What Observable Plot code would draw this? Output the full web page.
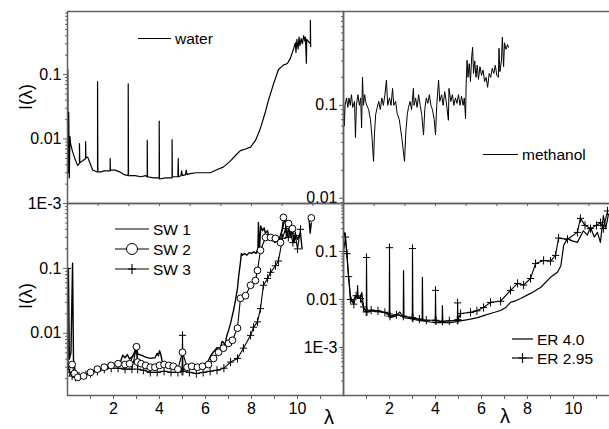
<!DOCTYPE html>
<html><head><meta charset="utf-8">
<script src="https://cdn.jsdelivr.net/npm/d3@7"></script>
<script src="https://cdn.jsdelivr.net/npm/@observablehq/plot@0.6"></script>
<style>
html,body{margin:0;padding:0;background:#fff;overflow:hidden;}
#wrap{position:relative;width:609px;height:429px;overflow:hidden;font-family:"Liberation Sans",Arial,sans-serif;}
#wrap svg{position:absolute;left:0;top:0;background:transparent;max-width:none;}
</style></head><body><div id="wrap"></div>
<script>
// ---------- data (λ, I(λ)) ----------
const water = [[0,0.0025],[0.01,0.12],[0.02,0.003],[0.04,0.026],[0.06,0.0025],[0.08,0.011],[0.1,0.0085],[0.16,0.0065],[0.25,0.0048],[0.33,0.0039],[0.39,0.0042],[0.39,0.0085],[0.4,0.0043],[0.5,0.0046],[0.59,0.005],[0.59,0.0091],[0.6,0.0052],[0.66,0.0052],[0.72,0.0044],[0.82,0.0033],[0.95,0.0031],[0.98,0.0031],[0.98,0.078],[0.99,0.0031],[1.1,0.0031],[1.2,0.0032],[1.39,0.0032],[1.39,0.005],[1.4,0.0033],[1.55,0.0033],[1.7,0.0031],[1.85,0.0028],[1.98,0.0027],[1.98,0.072],[1.99,0.0027],[2.2,0.0027],[2.4,0.0026],[2.55,0.0027],[2.6,0.0026],[2.6,0.0095],[2.61,0.0026],[2.8,0.0025],[2.99,0.0025],[2.99,0.019],[3.0,0.0024],[3.2,0.0025],[3.41,0.0025],[3.41,0.0098],[3.42,0.0026],[3.6,0.0026],[3.61,0.005],[3.62,0.0026],[3.7,0.0027],[3.72,0.0032],[3.75,0.0027],[3.85,0.0028],[3.87,0.0033],[3.9,0.0028],[4.0,0.0029],[4.2,0.003],[4.4,0.003],[4.66,0.003],[4.85,0.0033],[5.09,0.0037],[5.3,0.0045],[5.5,0.0057],[5.64,0.0066],[5.8,0.007],[5.97,0.0075],[6.13,0.0095],[6.29,0.0146],[6.46,0.027],[6.55,0.0395],[6.72,0.072],[6.88,0.12],[7.04,0.14],[7.17,0.148],[7.27,0.18],[7.37,0.25],[7.43,0.31],[7.45,0.22],[7.48,0.35],[7.52,0.25],[7.55,0.38],[7.58,0.28],[7.62,0.36],[7.66,0.3],[7.7,0.4],[7.74,0.33],[7.76,0.38],[7.79,0.15],[7.8,0.35],[7.92,0.3],[7.92,0.69],[7.93,0.27]];

const methanol = [[0,0.11],[0.03,0.06],[0.05,0.1],[0.1,0.12],[0.14,0.095],[0.18,0.12],[0.22,0.1],[0.26,0.13],[0.3,0.095],[0.36,0.11],[0.39,0.045],[0.42,0.1],[0.47,0.13],[0.52,0.1],[0.56,0.12],[0.59,0.057],[0.62,0.2],[0.65,0.1],[0.69,0.13],[0.72,0.11],[0.76,0.1],[0.82,0.09],[0.88,0.07],[0.93,0.045],[0.98,0.025],[1.01,0.05],[1.05,0.08],[1.1,0.095],[1.15,0.11],[1.2,0.09],[1.25,0.12],[1.3,0.1],[1.35,0.13],[1.4,0.186],[1.44,0.1],[1.5,0.12],[1.55,0.1],[1.6,0.152],[1.64,0.1],[1.7,0.11],[1.75,0.082],[1.82,0.07],[1.9,0.045],[1.99,0.025],[2.03,0.05],[2.08,0.08],[2.12,0.095],[2.17,0.11],[2.22,0.09],[2.28,0.152],[2.3,0.1],[2.35,0.12],[2.4,0.095],[2.45,0.13],[2.5,0.1],[2.55,0.08],[2.61,0.048],[2.65,0.09],[2.7,0.12],[2.75,0.105],[2.8,0.13],[2.85,0.1],[2.9,0.09],[2.96,0.07],[3.0,0.048],[3.04,0.1],[3.1,0.186],[3.14,0.11],[3.2,0.13],[3.25,0.1],[3.3,0.14],[3.35,0.11],[3.42,0.069],[3.44,0.152],[3.5,0.11],[3.55,0.13],[3.6,0.1],[3.65,0.12],[3.7,0.105],[3.75,0.13],[3.8,0.1],[3.85,0.125],[3.9,0.1],[3.94,0.12],[3.98,0.072],[4.0,0.17],[4.03,0.305],[4.06,0.2],[4.1,0.28],[4.14,0.18],[4.18,0.33],[4.21,0.42],[4.24,0.22],[4.28,0.3],[4.32,0.2],[4.36,0.27],[4.4,0.19],[4.45,0.26],[4.5,0.21],[4.55,0.24],[4.6,0.18],[4.65,0.2],[4.7,0.156],[4.75,0.22],[4.8,0.2],[4.85,0.25],[4.9,0.22],[4.95,0.27],[5.0,0.21],[5.05,0.2],[5.07,0.41],[5.1,0.23],[5.15,0.3],[5.18,0.54],[5.22,0.26],[5.25,0.47],[5.3,0.4],[5.35,0.45],[5.38,0.42]];

const sw1 = [[0,0.03],[0.04,0.1],[0.08,0.004],[0.15,0.005],[0.22,0.12],[0.26,0.004],[0.35,0.0024],[0.45,0.0021],[0.6,0.0022],[0.8,0.0023],[1.0,0.0025],[1.3,0.0028],[1.6,0.0031],[1.9,0.0033],[2.1,0.0034],[2.3,0.0036],[2.4,0.0046],[2.5,0.0042],[2.6,0.0047],[2.7,0.004],[2.85,0.0045],[2.95,0.0052],[3.0,0.0064],[3.05,0.0048],[3.2,0.0046],[3.4,0.0043],[3.6,0.0041],[3.8,0.0042],[3.9,0.0049],[3.95,0.0045],[4.0,0.0054],[4.05,0.0048],[4.13,0.0035],[4.4,0.0032],[4.7,0.0029],[5.0,0.0028],[5.3,0.0029],[5.6,0.0028],[5.9,0.003],[6.1,0.0036],[6.22,0.0045],[6.35,0.0052],[6.5,0.006],[6.65,0.0059],[6.72,0.0075],[6.78,0.0073],[6.85,0.0065],[6.92,0.009],[7.0,0.011],[7.09,0.0142],[7.17,0.019],[7.22,0.0226],[7.3,0.032],[7.39,0.049],[7.45,0.08],[7.52,0.124],[7.56,0.17],[7.61,0.16],[7.7,0.17],[7.8,0.16],[7.9,0.175],[8.0,0.17],[8.1,0.18],[8.2,0.17],[8.28,0.2],[8.3,0.51],[8.35,0.2],[8.4,0.45],[8.48,0.38],[8.55,0.42],[8.6,0.35],[8.7,0.38],[8.74,0.32],[8.83,0.3],[8.9,0.27],[9.04,0.25],[9.1,0.3],[9.2,0.28],[9.35,0.41],[9.48,0.65],[9.52,0.3],[9.6,0.4],[9.7,0.32],[9.78,0.38],[9.85,0.25],[9.9,0.35],[10.0,0.28],[10.13,0.35],[10.2,0.2],[10.3,NaN],[10.5,0.6],[10.55,0.35],[10.6,0.5]];

const sw2 = [[0.2,0.0033],[0.3,0.0024],[0.45,0.0021],[0.7,0.0022],[1.0,0.0025],[1.3,0.0028],[1.6,0.003],[1.9,0.0032],[2.2,0.0034],[2.5,0.0033],[2.7,0.0034],[3.0,0.0062],[3.05,0.0036],[3.2,0.0034],[3.4,0.0032],[3.6,0.003],[3.8,0.003],[4.0,0.0032],[4.2,0.0033],[4.4,0.0032],[4.6,0.0031],[4.8,0.0028],[5.0,0.0051],[5.2,0.003],[5.4,0.0031],[5.65,0.003],[5.87,0.0031],[6.13,0.0033],[6.35,0.0041],[6.57,0.0051],[6.78,0.0059],[7.0,0.007],[7.17,0.0078],[7.39,0.012],[7.52,0.0346],[7.74,0.038],[7.96,0.055],[8.17,0.065],[8.26,0.093],[8.39,0.19],[8.61,0.3],[8.83,0.3],[9.04,0.29],[9.26,0.25],[9.39,0.61],[9.61,0.49],[9.78,0.41],[10.2,NaN],[10.6,0.6]];

const sw3 = [[0.0,0.1],[0.03,0.003],[0.1,0.0025],[0.2,0.0022],[0.35,0.0021],[0.5,0.0022],[0.8,0.0023],[1.0,0.0024],[1.3,0.0026],[1.6,0.0028],[1.9,0.0029],[2.2,0.0029],[2.5,0.0028],[2.8,0.0028],[3.0,0.0061],[3.05,0.0028],[3.3,0.0027],[3.6,0.0025],[3.9,0.0025],[4.2,0.0026],[4.5,0.0025],[4.8,0.0025],[4.98,0.0026],[5.0,0.0093],[5.02,0.0026],[5.3,0.0025],[5.6,0.0024],[5.9,0.0025],[6.2,0.0026],[6.5,0.0027],[6.8,0.0029],[7.09,0.0036],[7.39,0.0041],[7.65,0.0059],[7.96,0.0093],[8.09,0.0124],[8.26,0.015],[8.39,0.024],[8.52,0.055],[8.7,0.07],[8.83,0.087],[9.04,0.11],[9.17,0.13],[9.35,0.29],[9.48,0.41],[9.6,0.3],[9.7,0.35],[9.8,0.25],[9.91,0.32],[10.0,0.2],[10.13,0.4]];

const er40 = [[0,0.2],[0.05,0.25],[0.12,0.12],[0.2,0.04],[0.3,0.012],[0.39,0.0087],[0.52,0.012],[0.61,0.011],[0.61,0.0195],[0.63,0.012],[0.74,0.0105],[0.8,0.014],[0.87,0.0065],[1.04,0.0055],[1.2,0.0058],[1.39,0.0056],[1.6,0.0055],[1.91,0.0052],[2.04,0.0042],[2.26,0.0045],[2.45,0.0055],[2.6,0.0042],[2.61,0.04],[2.63,0.0042],[2.91,0.004],[3.22,0.0037],[3.42,0.0036],[3.43,0.029],[3.45,0.0036],[3.78,0.0034],[4.0,0.0033],[4.29,0.0033],[4.3,0.0075],[4.32,0.0033],[4.65,0.0033],[5.09,0.0036],[5.52,0.0039],[5.83,0.0042],[6.09,0.0046],[6.39,0.0051],[6.83,0.0059],[7.05,0.0068],[7.26,0.0087],[7.5,0.0095],[7.7,0.0105],[8.13,0.0134],[8.57,0.0178],[9.0,0.029],[9.3,0.037],[9.45,0.05],[9.57,0.133],[9.74,0.19],[9.87,0.17],[10.17,0.155],[10.43,0.27],[10.6,0.22],[10.74,0.32],[10.9,0.2],[11.04,0.25],[11.17,0.155],[11.3,0.56],[11.4,0.3],[11.52,0.6]];

const er295 = [[0,0.1],[0.09,0.2],[0.15,0.09],[0.22,0.03],[0.3,0.01],[0.45,0.008],[0.55,0.012],[0.74,0.0105],[0.87,0.007],[0.99,0.0055],[1.0,0.075],[1.02,0.0056],[1.2,0.006],[1.5,0.0058],[1.8,0.0054],[1.99,0.005],[2.0,0.12],[2.02,0.0045],[2.3,0.0048],[2.6,0.0045],[2.99,0.0042],[3.0,0.115],[3.02,0.0041],[3.3,0.0039],[3.6,0.0037],[3.99,0.0037],[4.0,0.0155],[4.02,0.0036],[4.3,0.0035],[4.6,0.0036],[4.95,0.0037],[4.96,0.0085],[4.98,0.0038],[5.09,0.0051],[5.52,0.0054],[5.8,0.0058],[6.09,0.0068],[6.39,0.0087],[6.83,0.0092],[7.26,0.0155],[7.57,0.0216],[7.83,0.02],[8.13,0.0274],[8.35,0.056],[8.7,0.065],[9.0,0.063],[9.22,0.083],[9.35,0.19],[9.74,0.18],[10.17,0.25],[10.3,0.49],[10.5,0.35],[10.74,0.3],[11.0,0.35],[11.17,0.4],[11.3,0.3],[11.48,0.7]];

// tick values / labels
const yTicksTL = [0.1, 0.01, 0.001];
const yTicksTR = [0.1, 0.01];
const yTicksBL = [0.1, 0.01];
const yTicksBR = [0.1, 0.01, 0.001];
const xTicksTop = [1, 2, 3, 4, 5, 6, 7, 8];
const xTicksBottom = [1, 2, 3, 4, 5, 6, 7, 8, 9, 10, 11];
const legendNames = {water: "water", methanol: "methanol", sw: ["SW 1", "SW 2", "SW 3"], er: ["ER 4.0", "ER 2.95"]};
const axisLabelY = "I(\u03bb)", axisLabelX = "\u03bb";

// ---------- drawing ----------
const wrap = document.getElementById("wrap");
const AX = "#606060";
const fmtY = d => d === 0.001 ? "1E-3" : String(d);
const fmtX = d => d % 2 === 0 ? String(d) : "";
const toObj = a => a.map(([x, y]) => ({x, y}));
function minor([lo, hi]) {
  const out = [];
  for (let e = Math.floor(Math.log10(lo)); e <= Math.ceil(Math.log10(hi)); e++)
    for (let m = 2; m <= 9; m++) { const v = m * Math.pow(10, e); if (v > lo && v < hi) out.push(v); }
  return out;
}
const thinPlus = {draw(ctx, size) { const r = Math.sqrt(size / Math.PI); ctx.moveTo(-r, 0); ctx.lineTo(r, 0); ctx.moveTo(0, -r * 1.15); ctx.lineTo(0, r * 1.15); }};

function panel(c) {
  const svg = Plot.plot({
    width: 609, height: 429,
    marginLeft: c.ml, marginRight: c.mr, marginTop: c.mt, marginBottom: c.mb,
    x: {domain: c.xd}, y: {type: "log", domain: c.yd},
    style: "background:transparent;font-family:'Liberation Sans',Arial,sans-serif;font-size:16px;color:#000;max-width:none;",
    marks: [
      ...c.series,
      Plot.axisY(minor(c.yd), {tickSize: 2, tickFormat: () => "", stroke: AX, label: null}),
      Plot.axisY(c.yt, {tickSize: 4, tickPadding: 2, tickFormat: fmtY, stroke: AX, fill: "black", label: null}),
      Plot.axisX(c.xt, {tickSize: c.xts, tickPadding: 3, tickFormat: c.xf, stroke: AX, fill: "black", label: null}),
      Plot.frame({stroke: AX, strokeWidth: 1.5})
    ]
  });
  wrap.append(svg);
}
const line = (d, w = 1.1) => Plot.line(toObj(d), {x: "x", y: "y", stroke: "black", strokeWidth: w, clip: true});

panel({ml: 67, mr: 266, mt: 11, mb: 226, xd: [0, 9], yd: [0.001, 0.95], yt: yTicksTL, xt: xTicksTop, xts: 3, xf: () => "",
  series: [line(water, 1.2)]});
panel({ml: 343, mr: -10, mt: 11, mb: 226, xd: [0, 9], yd: [0.0088, 1.02], yt: yTicksTR, xt: xTicksTop, xts: 3, xf: () => "",
  series: [line(methanol, 1)]});
panel({ml: 67, mr: 266, mt: 203, mb: 34, xd: [0, 12], yd: [0.0011, 1], yt: yTicksBL, xt: xTicksBottom, xts: 4, xf: fmtX,
  series: [
    line(sw1, 1.4),
    line(sw3, 1.1),
    Plot.dot(toObj(sw3), {x: "x", y: "y", symbol: thinPlus, r: 3.6, fill: "none", stroke: "black", strokeWidth: 1, clip: true}),
    line(sw2, 1.1),
    Plot.dot(toObj(sw2), {x: "x", y: "y", r: 3.4, fill: "white", stroke: "black", strokeWidth: 1, clip: true})
  ]});
panel({ml: 343, mr: -10, mt: 203, mb: 34, xd: [0, 12], yd: [0.0001, 1], yt: yTicksBR, xt: xTicksBottom, xts: 4, xf: fmtX,
  series: [
    line(er40, 1.2),
    line(er295, 1.1),
    Plot.dot(toObj(er295), {x: "x", y: "y", symbol: thinPlus, r: 3.6, fill: "none", stroke: "black", strokeWidth: 1, clip: true})
  ]});

// ---------- legends and axis titles ----------
const ov = d3.select(wrap).append("svg").attr("width", 609).attr("height", 429)
  .style("font-family", "'Liberation Sans',Arial,sans-serif");
function legendRow(x1, x2, y, label, marker) {
  ov.append("line").attr("x1", x1).attr("x2", x2).attr("y1", y).attr("y2", y).attr("stroke", "black").attr("stroke-width", 1.2);
  const mx = (x1 + x2) / 2;
  if (marker === "circle") ov.append("circle").attr("cx", mx).attr("cy", y).attr("r", 5.5).attr("fill", "white").attr("stroke", "black");
  if (marker === "plus") ov.append("path").attr("d", `M${mx - 4},${y}H${mx + 4}M${mx},${y - 5}V${y + 5}`).attr("stroke", "black").attr("stroke-width", 1.1);
  ov.append("text").attr("x", x2 + 4).attr("y", y + 5.5).attr("font-size", 15.5).text(label);
}
legendRow(138, 171, 38.5, legendNames.water);
legendRow(483, 518, 154.5, legendNames.methanol);
legendRow(115, 149, 229, legendNames.sw[0]);
legendRow(115, 149, 249, legendNames.sw[1], "circle");
legendRow(115, 149, 269, legendNames.sw[2], "plus");
legendRow(512, 533, 339, legendNames.er[0]);
legendRow(512, 533, 358, legendNames.er[1], "plus");

ov.append("text").attr("transform", "translate(32,97) rotate(-90)").attr("text-anchor", "middle").attr("font-size", 18).text(axisLabelY);
ov.append("text").attr("transform", "translate(32,296) rotate(-90)").attr("text-anchor", "middle").attr("font-size", 18).text(axisLabelY);
ov.append("text").attr("x", 329).attr("y", 424).attr("text-anchor", "middle").attr("font-size", 20).text(axisLabelX);
ov.append("text").attr("x", 505).attr("y", 423).attr("text-anchor", "middle").attr("font-size", 20).text(axisLabelX);
</script></body></html>
